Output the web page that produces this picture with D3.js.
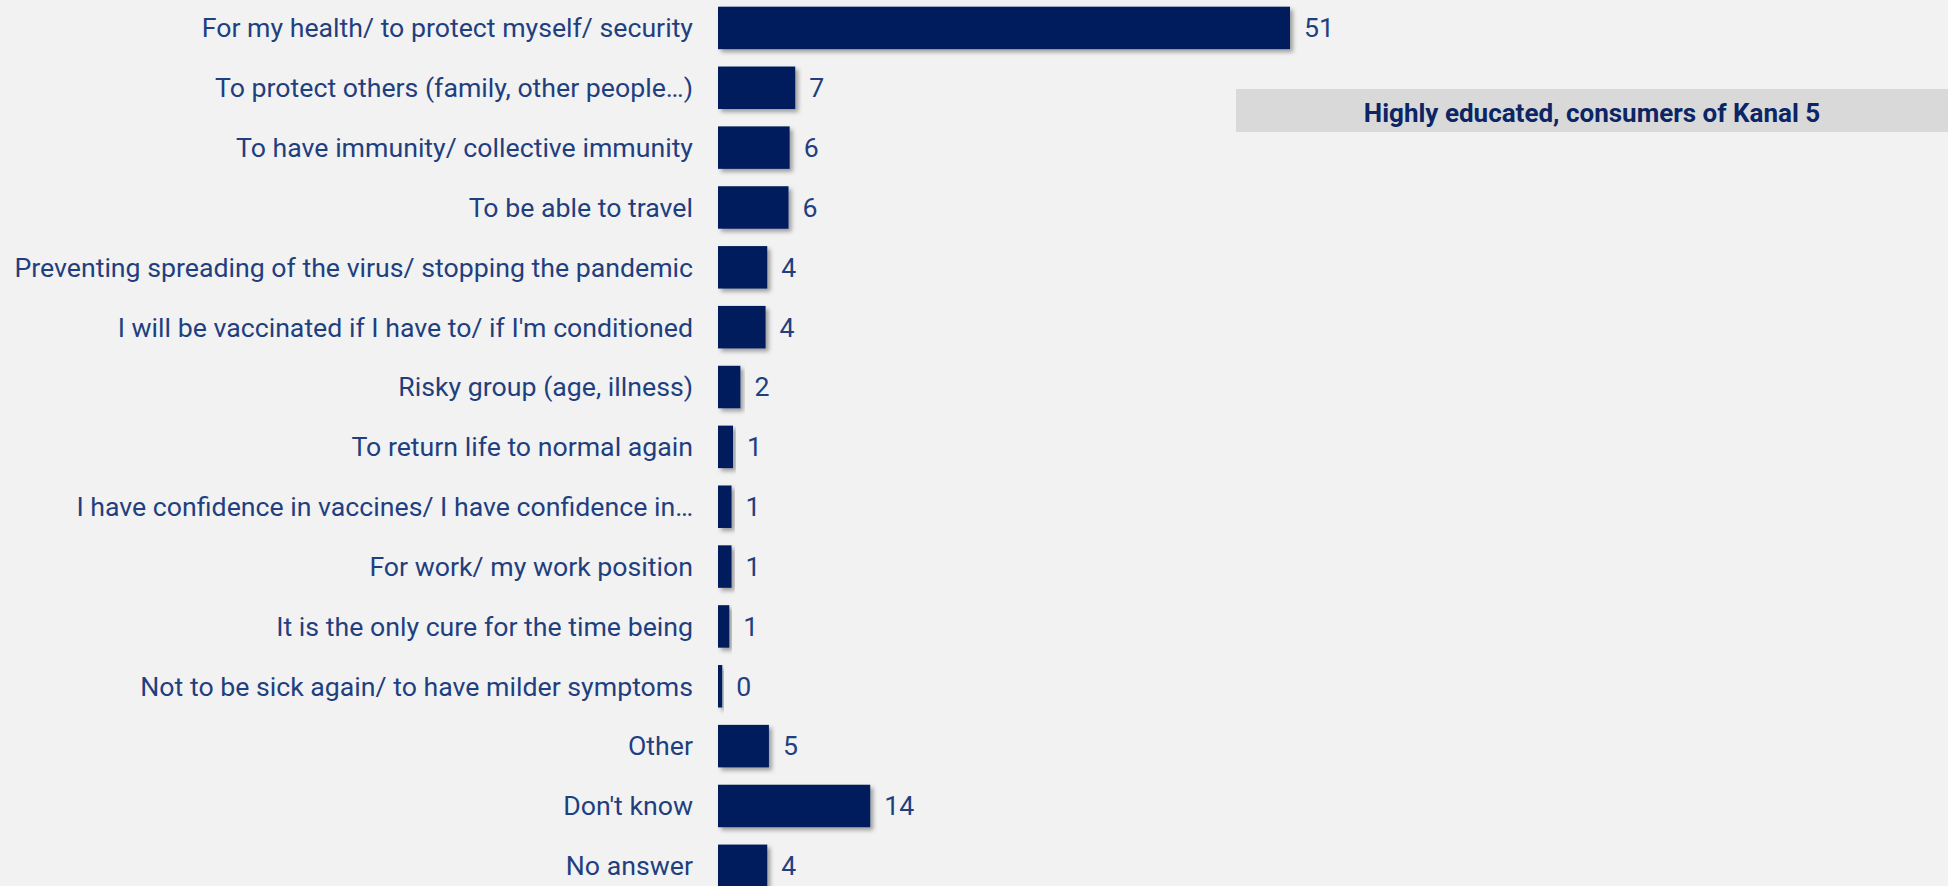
<!DOCTYPE html>
<html><head><meta charset="utf-8">
<script src="https://cdn.jsdelivr.net/npm/d3@7"></script>
<style>html,body{margin:0;padding:0;background:#F2F2F2;overflow:hidden;}</style>
</head><body>
<script>
const categories = [
  "For my health/ to protect myself/ security",
  "To protect others (family, other people…)",
  "To have immunity/ collective immunity",
  "To be able to travel",
  "Preventing spreading of the virus/ stopping the pandemic",
  "I will be vaccinated if I have to/ if I'm conditioned",
  "Risky group (age, illness)",
  "To return life to normal again",
  "I have confidence in vaccines/ I have confidence in…",
  "For work/ my work position",
  "It is the only cure for the time being",
  "Not to be sick again/ to have milder symptoms",
  "Other",
  "Don't know",
  "No answer"
];
const values = [51.1, 6.9, 6.4, 6.3, 4.4, 4.25, 2.0, 1.34, 1.21, 1.21, 1.01, 0.38, 4.55, 13.6, 4.4];
const title = "Highly educated, consumers of Kanal 5";

const W = 1948, H = 886;
const svg = d3.select("body").append("svg").attr("width", W).attr("height", H);
svg.append("rect").attr("width", W).attr("height", H).attr("fill", "#F2F2F2");

const defs = svg.append("defs");
const f = defs.append("filter").attr("id","sh").attr("x","-10%").attr("y","-20%").attr("width","130%").attr("height","160%");
f.append("feDropShadow").attr("dx",3).attr("dy",3).attr("stdDeviation",2.2).attr("flood-color","#000").attr("flood-opacity",0.35);

const font = "Roboto";
const x = d3.scaleLinear().domain([0, 51.1]).range([718, 1290]);
const step = 59.85;
const y = d3.scaleBand().domain(categories).range([-2, -2 + step * categories.length]).paddingInner(0.29).paddingOuter(0.145);

const g = svg.append("g");
g.selectAll("rect.bar").data(values).join("rect")
  .attr("class","bar")
  .attr("x", x(0))
  .attr("y", (d,i) => y(categories[i]))
  .attr("width", d => x(d) - x(0))
  .attr("height", y.bandwidth())
  .attr("fill", "#001F5B")
  .attr("filter","url(#sh)");

g.selectAll("text.cat").data(categories).join("text")
  .attr("class","cat")
  .attr("x", 693)
  .attr("y", d => y(d) + y.bandwidth()/2)
  .attr("dy","0.35em")
  .attr("text-anchor","end")
  .attr("font-family", font)
  .attr("font-size", 26.7)
  .attr("fill", "#1F3F7F")
  .text(d => d);

g.selectAll("text.val").data(values).join("text")
  .attr("class","val")
  .attr("x", d => x(d) + 14)
  .attr("y", (d,i) => y(categories[i]) + y.bandwidth()/2)
  .attr("dy","0.35em")
  .attr("font-family", font)
  .attr("font-size", 26.7)
  .attr("fill", "#1F3F7F")
  .text(d => d3.format(".0f")(d));

svg.append("rect").attr("x",1236).attr("y",89).attr("width",W-1236).attr("height",43).attr("fill","#D9D9D9");
svg.append("text").attr("x",(1236+W)/2).attr("y",112.5).attr("dy","0.35em").attr("text-anchor","middle")
  .attr("font-family", font).attr("font-weight","bold").attr("font-size",26).attr("fill","#0B2565").text(title);
</script>
</body></html>
